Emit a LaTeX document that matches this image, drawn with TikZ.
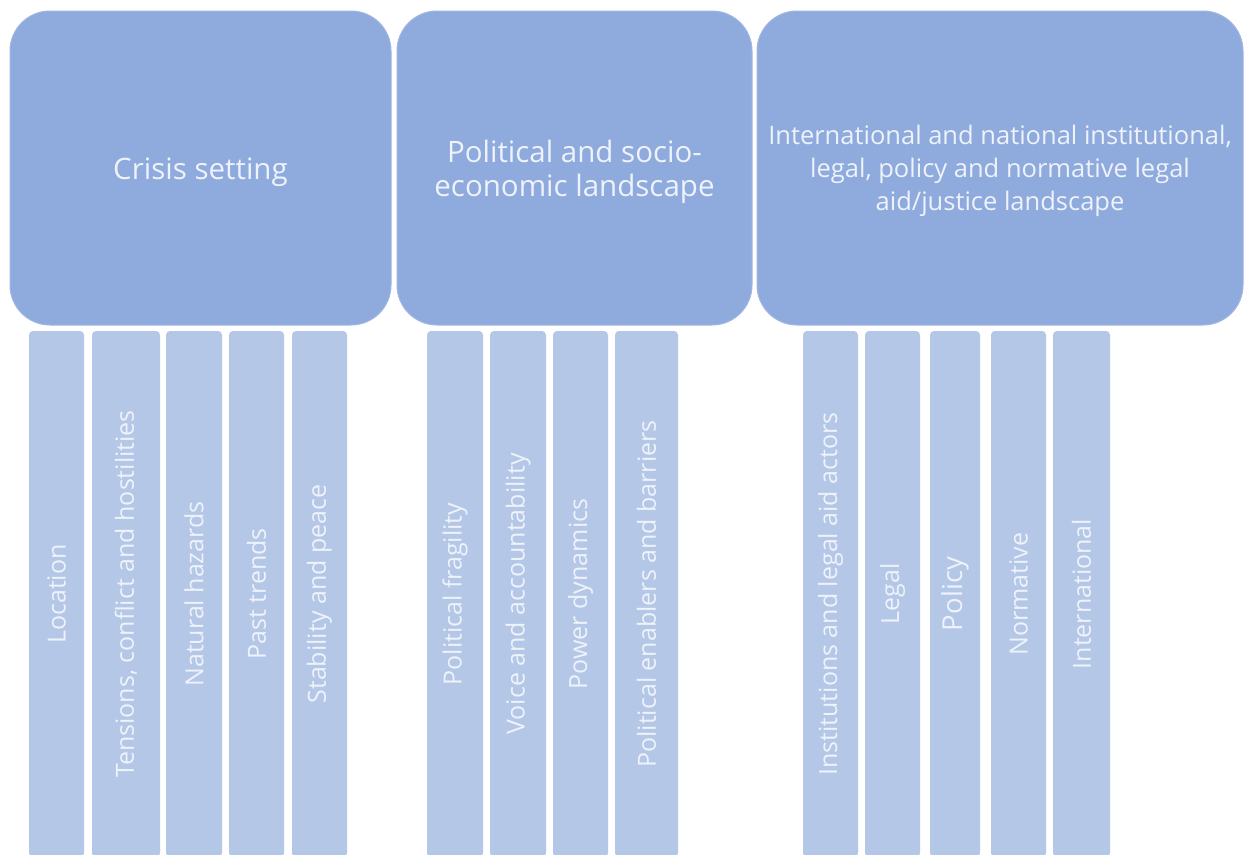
\documentclass[tikz,border=0pt]{standalone}
\usepackage{fontspec}
\setmainfont{Open Sans}
\definecolor{hdr}{HTML}{8FAADC}
\definecolor{barc}{HTML}{B4C7E7}
\definecolor{txt}{HTML}{EEF2FA}
\begin{document}
\begin{tikzpicture}[x=1pt,y=-1pt,
  hdrbox/.style={fill=hdr, draw=hdr!85!white, line width=1pt, rounded corners=40pt, inner sep=0pt, minimum height=314pt},
  hdrtext/.style={inner sep=0pt, align=center, text=txt, font=\fontsize{29.5}{34}\selectfont},
  barbox/.style={fill=barc, rounded corners=4pt, inner sep=0pt, rotate=90, minimum width=526pt, text=txt,
    font=\fontsize{25}{28}\selectfont}]
\useasboundingbox (0,0) rectangle (1244,854);
\fill[white] (0,0) rectangle (1244,854);
\clip (0,0) rectangle (1244,854);

% headers
\node[hdrbox, minimum width=381pt] (h1) at (200.5,168) {};
\node[hdrbox, minimum width=355pt] (h2) at (574.5,168) {};
\node[hdrbox, minimum width=486pt] (h3) at (1000,168) {};
\node[hdrtext] (t1) at ([yshift=-4pt]h1.center) {Crisis setting};
\node[hdrtext] (t2) at ([yshift=-4pt]h2.center) {Political and socio-\\economic landscape};
\node[hdrtext, font=\fontsize{25.5}{33}\selectfont] (t3) at ([yshift=-3pt]h3.center) {International and national institutional,\\legal, policy and normative legal\\aid/justice landscape};

% group 1
\node[barbox, minimum height=55pt] (a1) at (56.5,594) {Location};
\node[barbox, minimum height=68pt] (a2) at (126,594) {Tensions, conflict and hostilities};
\node[barbox, minimum height=56pt] (a3) at (194,594) {Natural hazards};
\node[barbox, minimum height=55pt] (a4) at (256.5,594) {Past trends};
\node[barbox, minimum height=55pt] (a5) at (319.5,594) {Stability and peace};

% group 2
\node[barbox, minimum height=56pt] (b1) at (455,594) {Political fragility};
\node[barbox, minimum height=56pt] (b2) at (518,594) {Voice and accountability};
\node[barbox, minimum height=55pt] (b3) at (580.5,594) {Power dynamics};
\node[barbox, minimum height=63pt] (b4) at (646.5,594) {Political enablers and barriers};

% group 3
\node[barbox, minimum height=55pt] (c1) at (830.5,594) {Institutions and legal aid actors};
\node[barbox, minimum height=55pt] (c2) at (892.5,594) {Legal};
\node[barbox, minimum height=50pt, font=\fontsize{27.5}{30}\selectfont] (c3) at (955,594) {Policy};
\node[barbox, minimum height=55pt] (c4) at (1018.5,594) {Normative};
\node[barbox, minimum height=57pt] (c5) at (1081.5,594) {International};
\end{tikzpicture}
\end{document}
